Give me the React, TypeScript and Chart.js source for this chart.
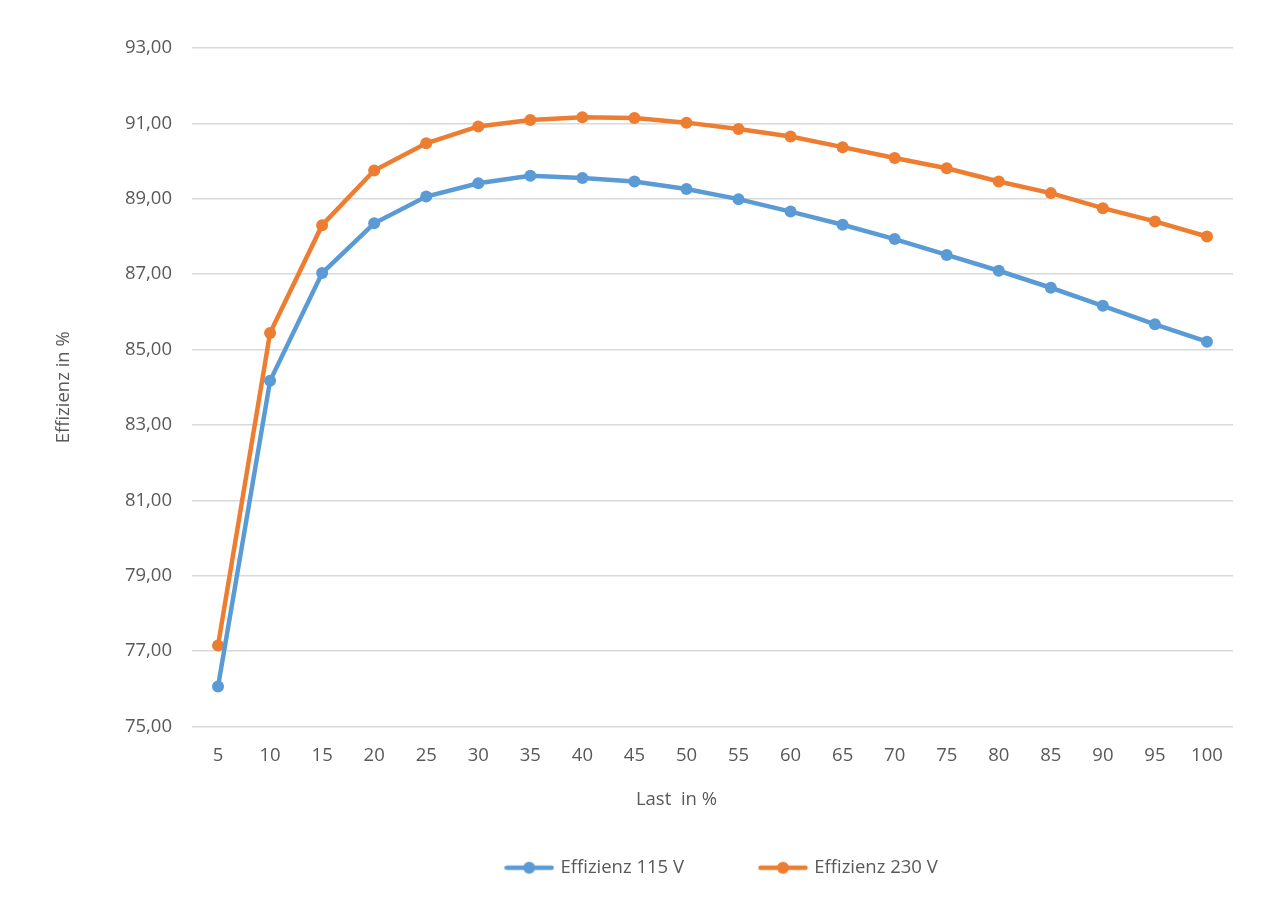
import React, { useEffect, useRef } from "react";
import { Chart, registerables } from "chart.js";

Chart.register(...registerables);

const loadLabels: string[] = ["5","10","15","20","25","30","35","40","45","50","55","60","65","70","75","80","85","90","95","100"];
const eff115: number[] = [76.06,84.17,87.03,88.35,89.06,89.41,89.61,89.55,89.46,89.26,88.99,88.66,88.31,87.93,87.51,87.09,86.64,86.16,85.67,85.21];
const eff230: number[] = [77.15,85.44,88.3,89.75,90.47,90.92,91.09,91.16,91.14,91.02,90.85,90.65,90.37,90.08,89.81,89.46,89.15,88.75,88.4,88.0];
const seriesNames: string[] = ["Effizienz 115 V", "Effizienz 230 V"];
const seriesColors: string[] = ["#5B9BD5", "#ED7D31"];
const yMin = 75;
const yMax = 93;
const yStep = 2;

const FONT = "'Open Sans', sans-serif";
const GRAY = "#595959";
const FS = 18.5;

function legendIcon(color: string): HTMLCanvasElement {
  const c = document.createElement("canvas");
  c.width = 50;
  c.height = 16;
  const ctx = c.getContext("2d")!;
  ctx.strokeStyle = color;
  ctx.lineWidth = 4.5;
  ctx.lineCap = "round";
  ctx.beginPath();
  ctx.moveTo(2.5, 8);
  ctx.lineTo(47.5, 8);
  ctx.stroke();
  ctx.fillStyle = color;
  ctx.beginPath();
  ctx.arc(25, 8, 6, 0, Math.PI * 2);
  ctx.fill();
  return c;
}

const legendShift = {
  id: "legendShift",
  afterLayout(chart: any) {
    if (chart.legend) {
      chart.legend.left += 10;
      chart.legend.right += 10;
    }
  },
};

export default function App() {
  const ref = useRef<HTMLCanvasElement | null>(null);

  useEffect(() => {
    document.body.style.margin = "0";
    const canvas = ref.current;
    if (!canvas) return;
    const icons = seriesColors.map(legendIcon);
    const chart = new Chart(canvas, {
      type: "line",
      data: {
        labels: loadLabels,
        datasets: [eff115, eff230].map((d, i) => ({
          label: seriesNames[i],
          data: d,
          borderColor: seriesColors[i],
          backgroundColor: seriesColors[i],
          borderWidth: 4.5,
          pointRadius: 6,
          pointStyle: "circle",
          pointBackgroundColor: seriesColors[i],
          pointBorderColor: seriesColors[i],
          pointBorderWidth: 0,
          tension: 0,
          fill: false,
        })),
      },
      options: {
        responsive: false,
        animation: false,
        layout: { padding: { top: 48, right: 47, left: 0, bottom: 29 } },
        scales: {
          x: {
            type: "category",
            offset: true,
            grid: { display: false, drawTicks: false },
            border: { display: false },
            ticks: { color: GRAY, font: { family: FONT, size: FS }, padding: 18, maxRotation: 0 },
            title: {
              display: true,
              text: "Last  in %" + " ".repeat(15),
              color: GRAY,
              font: { family: FONT, size: FS },
              padding: { top: 0, bottom: -29 },
            },
            afterFit: (s: any) => { s.height = 55; },
          },
          y: {
            min: yMin,
            max: yMax,
            grid: { color: "#D9D9D9", lineWidth: 1.5, drawTicks: false },
            border: { display: false },
            ticks: {
              stepSize: yStep,
              color: GRAY,
              font: { family: FONT, size: FS },
              padding: 20,
              callback: (v: any) => Number(v).toFixed(2).replace(".", ","),
            },
            title: {
              display: true,
              text: "Effizienz in %",
              color: GRAY,
              font: { family: FONT, size: FS },
              padding: { top: 53, bottom: 0 },
            },
            afterFit: (s: any) => { s.width = 192; },
          },
        },
        plugins: {
          legend: {
            position: "bottom",
            fullSize: false,
            labels: {
              color: GRAY,
              font: { family: FONT, size: FS },
              usePointStyle: true,
              pointStyleWidth: 44,
              padding: 77,
              generateLabels: (ch: any) =>
                ch.data.datasets.map((ds: any, i: number) => ({
                  text: ds.label,
                  fillStyle: seriesColors[i],
                  strokeStyle: seriesColors[i],
                  fontColor: GRAY,
                  lineWidth: 0,
                  pointStyle: icons[i],
                  hidden: false,
                  datasetIndex: i,
                })),
            },
          },
          tooltip: { enabled: false },
        },
      } as any,
      plugins: [legendShift],
    });
    return () => chart.destroy();
  }, []);

  return <canvas ref={ref} width={1280} height={916} style={{ display: "block" }} />;
}
